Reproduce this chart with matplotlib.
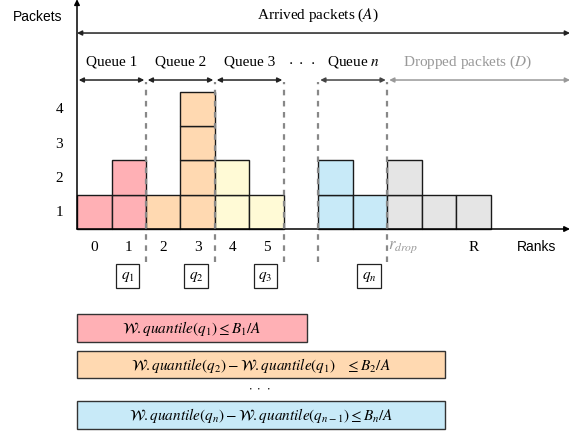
"""Rank histogram of arrived packets split into queues."""

import matplotlib
matplotlib.use("Agg")
import matplotlib.pyplot as plt
from matplotlib.patches import Rectangle

plt.rcParams["font.family"] = ["Liberation Serif", "DejaVu Serif"]
plt.rcParams["mathtext.fontset"] = "stix"

# data
ranks = list(range(12))
counts = [1, 2, 1, 4, 2, 1, 0, 2, 1, 2, 1, 1]
rank_group = ["q1", "q1", "q2", "q2", "q3", "q3", "none", "qn", "qn", "drop", "drop", "drop"]
group_colors = {"q1": "#ffb0b5", "q2": "#ffd9b1", "q3": "#fffad6",
                "qn": "#c8eaf8", "drop": "#e5e5e5", "none": "white"}
rank_labels = ["0", "1", "2", "3", "4", "5"]
packet_ticks = [1, 2, 3, 4]
queue_bounds = [(0, 2, "Queue 1"), (2, 4, "Queue 2"), (4, 6, "Queue 3"), (7, 9, r"Queue $n$")]
drop_start = 9
boundaries = [2, 4, 6, 7, 9]
q_labels = [r"$q_1$", r"$q_2$", r"$q_3$", r"$q_n$"]
q_pos = [1.47, 3.46, 5.46, 8.46]
formulas = [r"$\mathcal{W}.quantile(q_1) \leq B_1/A$",
            r"$\mathcal{W}.quantile(q_2) - \mathcal{W}.quantile(q_1)\ \ \ \leq B_2/A$",
            r"$\mathcal{W}.quantile(q_n) - \mathcal{W}.quantile(q_{n-1}) \leq B_n/A$"]
formula_colors = ["#ffb0b5", "#ffd9b1", "#c8eaf8"]

fig = plt.figure(figsize=(5.8, 4.35), dpi=100)
ax = fig.add_axes([0, 0, 1, 1])
ax.set_xlim(-2.232, 14.58)
ax.set_ylim(-5.977, 6.706)
ax.axis("off")

# stacked unit cells
for level in range(1, max(counts) + 1):
    xs = [r for r in ranks if counts[r] >= level]
    cols = [group_colors[rank_group[r]] for r in xs]
    ax.bar(xs, [1] * len(xs), width=1, bottom=level - 1, align="edge",
           color=cols, edgecolor="#1a1a1a", linewidth=1.0, zorder=2)

x_end = 14.29
arrow_kw = dict(arrowstyle="-|>", mutation_scale=8, shrinkA=0, shrinkB=0, lw=1.1)
# axes
ax.annotate("", xy=(x_end, 0), xytext=(0, 0), arrowprops=dict(color="black", **arrow_kw), zorder=3)
ax.annotate("", xy=(0, 6.70), xytext=(0, 0), arrowprops=dict(color="black", **arrow_kw), zorder=3)

dbl = dict(arrowstyle="<|-|>", mutation_scale=7, shrinkA=0, shrinkB=0, lw=1.1)
ax.annotate("", xy=(x_end, 5.714), xytext=(0, 5.714), arrowprops=dict(color="#222222", **dbl))
ax.text(6.99, 6.27, r"Arrived packets ($A$)", ha="center", va="center", fontsize=11)

for lo, hi, name in queue_bounds:
    c = "#444444" if "n" in name else "#222222"
    ax.annotate("", xy=(hi - 0.05, 4.344), xytext=(lo + 0.05, 4.344), arrowprops=dict(color=c, **dbl))
    ax.text((lo + hi) / 2, 4.9, name, ha="center", va="center", fontsize=11)
ax.annotate("", xy=(x_end, 4.344), xytext=(drop_start + 0.05, 4.344),
            arrowprops=dict(color="#999999", **dbl))
ax.text(11.33, 4.9, r"Dropped packets ($D$)", ha="center", va="center", fontsize=11, color="#999999")
ax.text(6.52, 4.9, r"$\cdot\ \cdot\ \cdot$", ha="center", va="center", fontsize=11)

for b in boundaries:
    ax.plot([b, b], [-0.96, 4.29], color="#888888", lw=1.6, ls=(0, (2.5, 2.5)), zorder=3)

# tick labels
for k in packet_ticks:
    ax.text(-0.52, k - 0.5, str(k), ha="center", va="center", fontsize=11)
for i, lab in enumerate(rank_labels):
    ax.text(i + 0.5, -0.5, lab, ha="center", va="center", fontsize=11)
ax.text(9.45, -0.5, r"$r_{drop}$", ha="center", va="center", fontsize=12, color="#999999")
ax.text(11.5, -0.5, "R", ha="center", va="center", fontsize=11)
ax.text(13.33, -0.5, "Ranks", ha="center", va="center", fontsize=10, family="Liberation Sans")
ax.text(-1.13, 6.21, "Packets", ha="center", va="center", fontsize=10, family="Liberation Sans")

for x, lab in zip(q_pos, q_labels):
    ax.text(x, -1.37, lab, ha="center", va="center", fontsize=11,
            bbox=dict(boxstyle="square,pad=0.3", fc="white", ec="#222222", lw=0.9))

# constraint boxes
box_spans = [(6.67, -3.285, -2.478), (10.67, -4.35, -3.548), (10.67, -5.83, -5.015)]
for (w, y0, y1), txt, fc in zip(box_spans, formulas, formula_colors):
    ax.add_patch(Rectangle((0, y0), w, y1 - y0, fc=fc, ec="#333333", lw=1.0))
    ax.text(w / 2, (y0 + y1) / 2, txt, ha="center", va="center", fontsize=11)
ax.text(5.3, -4.6, r"$\cdot\ \cdot\ \cdot$", ha="center", va="center", fontsize=9)

plt.savefig("out.png", dpi=100)
plt.close()
